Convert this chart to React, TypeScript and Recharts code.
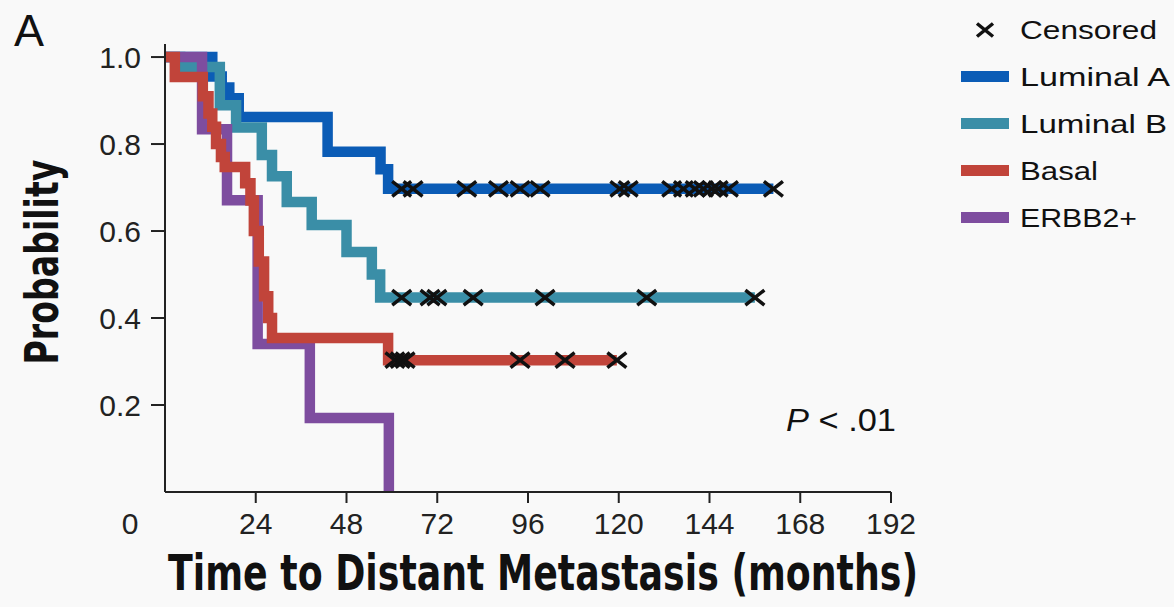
import React from "react";
import { ComposedChart, Line, Scatter, XAxis, YAxis } from "recharts";

const W = 1174;
const H = 607;

// Kaplan-Meier steps: time (months) where each level starts, and the level
const lumATimes = [0, 12.5, 15, 17, 19.5, 43, 57, 59, 160.9];
const lumAProb = [1, 0.955, 0.93, 0.905, 0.862, 0.782, 0.742, 0.697, 0.697];
const lumACensored = [62.6, 65.6, 79.8, 88.2, 93.9, 99.2, 120.3, 122.5, 134.0, 137.1, 140.2, 142.4, 144.6, 146.3, 149.0, 160.9];

const lumBTimes = [0, 4, 14.5, 18.8, 25.6, 28.3, 32.2, 38.8, 48, 54.7, 56.9, 156.0];
const lumBProb = [1, 0.977, 0.889, 0.838, 0.775, 0.726, 0.667, 0.614, 0.552, 0.5, 0.447, 0.447];
const lumBCensored = [62.6, 70.1, 71.9, 81.5, 100.5, 127.4, 156.0];

const basalTimes = [0, 2.6, 10, 11.5, 12.5, 13.5, 14.8, 15.8, 21.2, 22.6, 23.5, 24.8, 26.2, 27.3, 28.3, 59, 119.5];
const basalProb = [1, 0.954, 0.91, 0.87, 0.84, 0.8, 0.77, 0.747, 0.71, 0.67, 0.6, 0.53, 0.45, 0.4, 0.354, 0.303, 0.303];
const basalCensored = [60.8, 62.2, 63.5, 93.9, 105.8, 119.5];

const erbbTimes = [0, 9.8, 16.4, 24.5, 38.3, 59.2];
const erbbProb = [1, 0.834, 0.671, 0.34, 0.17, 0];

const xTicks = [0, 24, 48, 72, 96, 120, 144, 168, 192];
const yTicks = [0.2, 0.4, 0.6, 0.8, 1.0];

type Pt = { t: number; p: number };

const toPoints = (times: number[], probs: number[]): Pt[] =>
  times.map((t, i) => ({ t, p: probs[i] }));

const levelAt = (times: number[], probs: number[], t: number) => {
  let v = probs[0];
  times.forEach((s, i) => {
    if (s <= t) v = probs[i];
  });
  return v;
};

const series = [
  { name: "Luminal A", color: "#0b5cb6", times: lumATimes, probs: lumAProb, censored: lumACensored },
  { name: "Luminal B", color: "#3a8ea7", times: lumBTimes, probs: lumBProb, censored: lumBCensored },
  { name: "ERBB2+", color: "#7e4d9f", times: erbbTimes, probs: erbbProb, censored: [] as number[] },
  { name: "Basal", color: "#c1443a", times: basalTimes, probs: basalProb, censored: basalCensored },
];

const legendOrder = ["Luminal A", "Luminal B", "Basal", "ERBB2+"];
const legendWidths: Record<string, number> = {
  "Luminal A": 150,
  "Luminal B": 147,
  Basal: 78,
  "ERBB2+": 117,
};

const tickFont = "'Liberation Sans', Arial, sans-serif";
const titleFont = "'Liberation Sans Narrow', 'DejaVu Sans Condensed', 'Liberation Sans', sans-serif";

function Cross({ cx, cy, a = 9.5, b = 7.5 }: { cx?: number; cy?: number; a?: number; b?: number }) {
  if (cx == null || cy == null) return null;
  return (
    <path
      d={`M${cx - a},${cy - b}L${cx + a},${cy + b}M${cx - a},${cy + b}L${cx + a},${cy - b}`}
      stroke="#111"
      strokeWidth={3.5}
      fill="none"
    />
  );
}

function XTick(props: any) {
  const { x, y, payload } = props;
  if (payload.value === 0) {
    return (
      <text x={x - 35} y={y + 31} textAnchor="middle" fontSize={30} fontFamily={tickFont} fill="#222">
        0
      </text>
    );
  }
  return (
    <g>
      <line x1={x} x2={x} y1={y - 11} y2={y} stroke="#222" strokeWidth={2} />
      <text x={x} y={y + 31} textAnchor="middle" fontSize={30} fontFamily={tickFont} fill="#222">
        {payload.value}
      </text>
    </g>
  );
}

export default function App() {
  return (
    <div style={{ position: "absolute", left: 0, top: 0, width: W, height: H, background: "#f9f9f9" }}>
      <ComposedChart width={W} height={H} margin={{ top: 44, right: 283, bottom: 0, left: 0 }}>
        <XAxis
          type="number"
          dataKey="t"
          domain={[0, 192]}
          ticks={xTicks}
          interval={0}
          height={115}
          allowDataOverflow
          axisLine={{ stroke: "#222", strokeWidth: 2 }}
          tickLine={false}
          tickSize={11}
          tickMargin={0}
          tick={<XTick />}
        />
        <YAxis
          type="number"
          dataKey="p"
          domain={[0, 1.03]}
          ticks={yTicks}
          interval={0}
          width={165}
          allowDataOverflow
          axisLine={{ stroke: "#222", strokeWidth: 2 }}
          tickLine={{ stroke: "#222", strokeWidth: 2 }}
          tickSize={14}
          tickMargin={10}
          tickFormatter={(v: number) => v.toFixed(1)}
          tick={{ fontSize: 30, fontFamily: tickFont, fill: "#222" }}
        />
        {series.map((s) => (
          <Line
            key={s.name}
            data={toPoints(s.times, s.probs)}
            dataKey="p"
            type="stepAfter"
            stroke={s.color}
            strokeWidth={10.5}
            strokeLinejoin="miter"
            strokeLinecap="butt"
            dot={false}
            activeDot={false}
            isAnimationActive={false}
          />
        ))}
        {series
          .filter((s) => s.censored.length)
          .map((s) => (
            <Scatter
              key={s.name + "-c"}
              data={s.censored.map((t) => ({ t, p: levelAt(s.times, s.probs, t) }))}
              dataKey="p"
              shape={(p: any) => <Cross cx={p.cx} cy={p.cy} />}
              isAnimationActive={false}
            />
          ))}
      </ComposedChart>
      <svg width={W} height={H} style={{ position: "absolute", left: 0, top: 0, pointerEvents: "none" }}>
        <text x={14} y={46} fontSize={45} fontFamily={tickFont} fill="#111">
          A
        </text>
        <text
          x={543}
          y={590}
          textAnchor="middle"
          fontSize={49}
          fontWeight="bold"
          fontFamily={titleFont}
          fill="#111"
          textLength={750}
          lengthAdjust="spacingAndGlyphs"
        >
          Time to Distant Metastasis (months)
        </text>
        <text
          transform="translate(58,262) rotate(-90)"
          textAnchor="middle"
          fontSize={46}
          fontWeight="bold"
          fontFamily={titleFont}
          fill="#111"
          textLength={205}
          lengthAdjust="spacingAndGlyphs"
        >
          Probability
        </text>
        <text x={786} y={431} fontSize={31} fontFamily={tickFont} fill="#111" textLength={110} lengthAdjust="spacingAndGlyphs">
          <tspan fontStyle="italic">P</tspan> &lt; .01
        </text>
        <Cross cx={985} cy={30} a={8} b={6.5} />
        <text x={1020} y={39} fontSize={25} fontFamily={tickFont} fill="#111" textLength={137} lengthAdjust="spacingAndGlyphs">
          Censored
        </text>
        {legendOrder.map((name, i) => {
          const s = series.find((d) => d.name === name)!;
          const cy = 76.5 + 47 * i;
          return (
            <g key={name}>
              <rect x={961} y={cy - 5.5} width={48} height={11} fill={s.color} />
              <text
                x={1020}
                y={cy + 9}
                fontSize={25}
                fontFamily={tickFont}
                fill="#111"
                textLength={legendWidths[name]}
                lengthAdjust="spacingAndGlyphs"
              >
                {name}
              </text>
            </g>
          );
        })}
      </svg>
    </div>
  );
}
